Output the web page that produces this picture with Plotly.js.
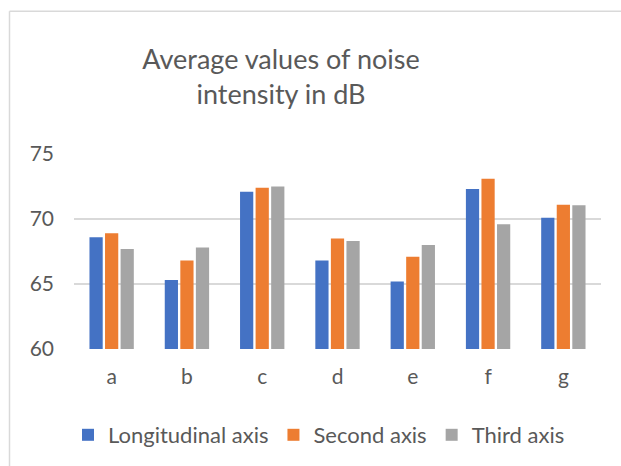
<!DOCTYPE html>
<html>
<head>
<meta charset="utf-8">
<script src="https://cdn.plot.ly/plotly-3.0.1.min.js"></script>
<style>
html,body{margin:0;padding:0;background:#fff;}
#chart{width:621px;height:466px;}
</style>
</head>
<body>
<div id="chart"></div>
<script>
var categories = ['a', 'b', 'c', 'd', 'e', 'f', 'g'];
var longitudinal = [68.6, 65.3, 72.1, 66.8, 65.2, 72.3, 70.1];
var second = [68.9, 66.8, 72.4, 68.5, 67.1, 73.1, 71.1];
var third = [67.7, 67.8, 72.5, 68.3, 68.0, 69.6, 71.05];
var seriesNames = ['Longitudinal axis', 'Second axis', 'Third axis'];
var colors = ['#4472C4', '#ED7D31', '#A5A5A5'];
var yTicks = [60, 65, 70, 75];

var FONT = 'Lato, "Open Sans", sans-serif';
var TXT = '#595959';

var data = [longitudinal, second, third].map(function (vals, i) {
  return {
    type: 'bar',
    x: categories,
    y: vals,
    name: seriesNames[i],
    marker: {color: colors[i]},
    hoverinfo: 'none'
  };
});

var W = 621, H = 466, L = 74, R = 20, T = 154, B = 116;
var pw = W - L - R, ph = H - T - B;
function px2x(px) { return (px - L) / pw; }
function py2y(py) { return (H - B - py) / ph; }

var layout = {
  width: W, height: H,
  margin: {l: L, r: R, t: T, b: B, pad: 0},
  paper_bgcolor: '#ffffff',
  plot_bgcolor: '#ffffff',
  font: {family: FONT, color: TXT, size: 20},
  title: {
    text: 'Average values of noise<br>intensity in dB',
    font: {family: FONT, size: 27, color: TXT},
    xref: 'container', x: 281 / W, xanchor: 'center',
    yref: 'container', y: 1 - 69 / H, yanchor: 'middle'
  },
  barmode: 'group',
  bargap: 0.38,
  bargroupgap: 0.15,
  xaxis: {
    type: 'category',
    showgrid: false,
    showline: false,
    zeroline: false,
    ticks: '',
    ticklabelstandoff: 13,
    tickfont: {family: FONT, size: 21, color: TXT}
  },
  yaxis: {
    range: [60, 75],
    tickvals: yTicks,
    ticktext: yTicks.map(String),
    showgrid: true,
    gridcolor: '#D9D9D9',
    gridwidth: 1.3,
    zeroline: false,
    showline: false,
    ticks: '',
    ticklabelstandoff: 19,
    tickfont: {family: FONT, size: 21, color: TXT}
  },
  showlegend: true,
  legend: {
    orientation: 'h',
    x: px2x(68), xanchor: 'left',
    y: py2y(435), yanchor: 'middle',
    font: {family: FONT, size: 22, color: TXT},
    bgcolor: 'rgba(0,0,0,0)',
    itemclick: false, itemdoubleclick: false
  },
  shapes: [
    {type: 'line', xref: 'paper', yref: 'paper', layer: 'above',
     x0: px2x(9.5), x1: px2x(640), y0: py2y(10.5), y1: py2y(10.5),
     line: {color: '#D9D9D9', width: 1.5}},
    {type: 'line', xref: 'paper', yref: 'paper', layer: 'above',
     x0: px2x(9.5), x1: px2x(9.5), y0: py2y(10.5), y1: py2y(480),
     line: {color: '#D9D9D9', width: 1.5}}
  ]
};

Plotly.newPlot('chart', data, layout, {staticPlot: true, displayModeBar: false});
</script>
</body>
</html>
